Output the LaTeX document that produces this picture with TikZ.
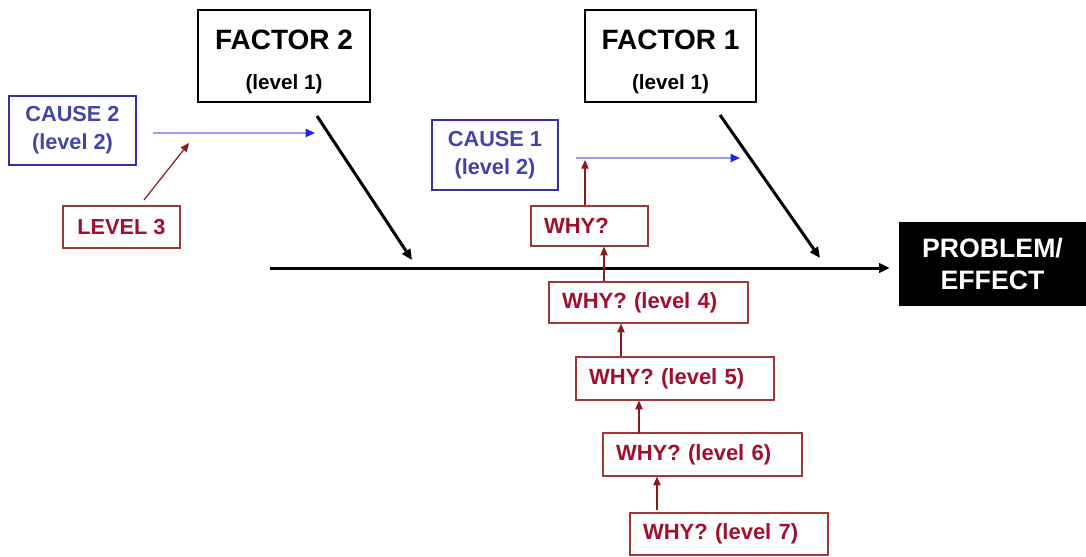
\documentclass[tikz,border=0pt]{standalone}
\usepackage{fontspec}
\setmainfont{Liberation Sans}
\usetikzlibrary{arrows.meta}
\definecolor{cblue}{HTML}{4444A8}
\definecolor{cblueborder}{HTML}{3333A0}
\definecolor{lblue}{HTML}{9A9AFF}
\definecolor{tblue}{HTML}{2020FF}
\definecolor{cred}{HTML}{A0102E}
\definecolor{credborder}{HTML}{A03838}
\definecolor{arred}{HTML}{8B1A1A}
\begin{document}
\begin{tikzpicture}[x=0.75pt,y=-0.75pt,
  factorbox/.style={draw=black, line width=0.9pt, minimum width=129pt, minimum height=69pt, align=center, inner sep=0pt, font=\bfseries},
  causebox/.style={draw=cblueborder, line width=0.9pt, text=cblue, align=center, inner sep=0pt, font=\fontsize{16.3}{21}\selectfont\bfseries},
  whybox/.style={draw=credborder, line width=0.9pt, text=cred, align=left, inner xsep=9.75pt, inner ysep=0pt, font=\fontsize{16.5}{20}\selectfont\bfseries},
  levelbox/.style={draw=credborder, line width=0.9pt, text=cred, align=center, inner sep=0pt, font=\fontsize{16.3}{20}\selectfont\bfseries},
  bone/.style={line width=2.25pt, -{Triangle[length=8pt,width=7pt]}},
  bluearrow/.style={draw=lblue, line width=1.4pt, -{Triangle[length=7pt,width=6pt,color=tblue]}},
  redarrow/.style={draw=arred, line width=0.9pt, -{Triangle[length=6.5pt,width=5.5pt]}}
]
\useasboundingbox (0,0) rectangle (1086,557);

% factor boxes
\node[factorbox] (f2) at (284,56) {\fontsize{21}{21}\selectfont\rule{0pt}{23pt}FACTOR 2\\[18pt]\fontsize{15.5}{16}\selectfont (level 1)};
\node[factorbox, minimum width=128.25pt] (f1) at (670.5,56) {\fontsize{21}{21}\selectfont\rule{0pt}{23pt}FACTOR 1\\[18pt]\fontsize{15.5}{16}\selectfont (level 1)};

% cause boxes
\node[causebox, minimum width=95.25pt, minimum height=51.75pt] (c2) at (72.5,130.5) {CAUSE 2\\(level 2)};
\node[causebox, minimum width=94.5pt, minimum height=52.5pt] (c1) at (495,155) {CAUSE 1\\(level 2)};

% level 3
\node[levelbox, minimum width=87.75pt, minimum height=31.5pt] (l3) at (121.5,227) {LEVEL 3};

% why boxes
\node[whybox, text width=68.25pt, minimum height=30pt] (why) at (589.5,226) {WHY?};
\node[whybox, text width=129.75pt, minimum height=30.75pt] (l4) at (648.5,302.5) {WHY? (level 4)};
\node[whybox, text width=129pt, minimum height=32.25pt] (l5) at (675,378.5) {WHY? (level 5)};
\node[whybox, text width=129.75pt, minimum height=32.25pt] (l6) at (702.5,454.5) {WHY? (level 6)};
\node[whybox, text width=129pt, minimum height=31.5pt] (l7) at (729,534) {WHY? (level 7)};

% problem
\node[fill=black, text=white, minimum width=140.25pt, minimum height=63pt, inner sep=0pt, align=center,
      font=\fontsize{20}{24}\selectfont\bfseries] (pb) at (992.5,264) {PROBLEM/\\EFFECT};

% coordinates
\coordinate (spine0) at (270,268);
\coordinate (f2s) at (317,116);
\coordinate (f2e) at (412,260);
\coordinate (f1s) at (720,115);
\coordinate (f1e) at (820,258);
\coordinate (c2s) at (153,133);
\coordinate (c2e) at (315,133);
\coordinate (c1s) at (576,158);
\coordinate (c1e) at (740,158);
\coordinate (why1e) at (585,160);
\coordinate (l3s) at (144,200);
\coordinate (l3e) at (189,143);
\coordinate (aw) at (585,0);
\coordinate (a4) at (604,0);
\coordinate (a5) at (621,0);
\coordinate (a6) at (639,0);
\coordinate (a7) at (657,0);

% spine and bones
\draw[bone] (spine0) -- ([xshift=-6.75pt]spine0 -| pb.west);
\draw[bone] (f2s) -- (f2e);
\draw[bone] (f1s) -- (f1e);

% cause arrows
\draw[bluearrow] (c2s) -- (c2e);
\draw[bluearrow] (c1s) -- (c1e);

% red arrows
\draw[redarrow] (l3s) -- (l3e);
\draw[redarrow] (why.north -| aw) -- (why1e);
\draw[redarrow] (l4.north -| a4) -- (why.south -| a4);
\draw[redarrow] (l5.north -| a5) -- (l4.south -| a5);
\draw[redarrow] ([yshift=-1pt]l6.north -| a6) -- (l5.south -| a6);
\draw[redarrow] ([yshift=2pt]l7.north -| a7) -- (l6.south -| a7);
\end{tikzpicture}
\end{document}
